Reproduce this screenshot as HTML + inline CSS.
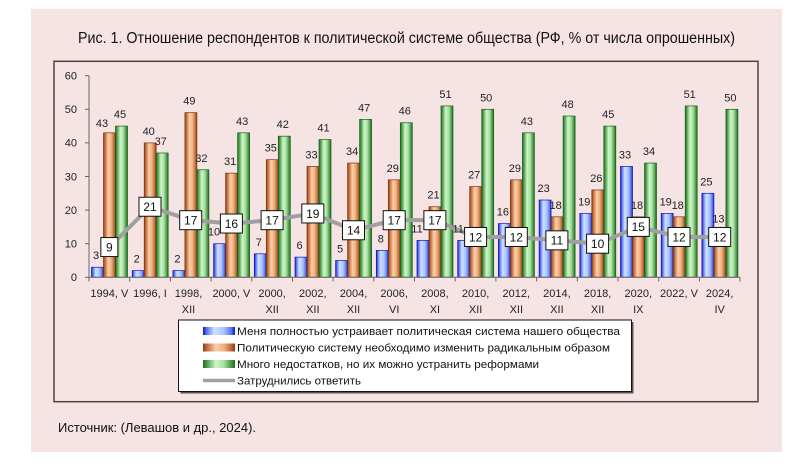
<!DOCTYPE html>
<html><head><meta charset="utf-8"><style>
html,body{margin:0;padding:0;background:#fff;}
body{width:800px;height:464px;overflow:hidden;}
svg text{font-family:"Liberation Sans","DejaVu Sans",sans-serif;}
</style></head><body>
<svg width="800" height="464" viewBox="0 0 800 464" xmlns="http://www.w3.org/2000/svg">
<defs>
<linearGradient id="gb" x1="0" y1="0" x2="1" y2="0">
<stop offset="0" stop-color="#1010c8"/><stop offset="0.12" stop-color="#5a78f0"/><stop offset="0.35" stop-color="#cfe0ff"/><stop offset="0.65" stop-color="#a8c4ff"/><stop offset="0.88" stop-color="#5a78f0"/><stop offset="1" stop-color="#1010c8"/>
</linearGradient>
<linearGradient id="go" x1="0" y1="0" x2="1" y2="0">
<stop offset="0" stop-color="#8a3a10"/><stop offset="0.12" stop-color="#c06a38"/><stop offset="0.4" stop-color="#fbcfa8"/><stop offset="0.65" stop-color="#f0b080"/><stop offset="0.88" stop-color="#c06a38"/><stop offset="1" stop-color="#8a3a10"/>
</linearGradient>
<linearGradient id="gg" x1="0" y1="0" x2="1" y2="0">
<stop offset="0" stop-color="#1e6a1e"/><stop offset="0.12" stop-color="#4a9a4a"/><stop offset="0.4" stop-color="#d0f5c8"/><stop offset="0.65" stop-color="#a8e0a0"/><stop offset="0.88" stop-color="#4a9a4a"/><stop offset="1" stop-color="#1e6a1e"/>
</linearGradient>
</defs>
<rect x="31" y="9" width="751" height="443" fill="#f6e4e4"/>
<text x="78" y="43" font-size="15.5" fill="#111" textLength="657" lengthAdjust="spacingAndGlyphs">Рис. 1. Отношение респондентов к политической системе общества (РФ, % от числа опрошенных)</text>
<rect x="54" y="61.3" width="704" height="340.4" fill="#f6e4e4" stroke="#4d4242" stroke-width="1.5"/>

<!-- y axis -->
<g stroke="#666" stroke-width="1">
<line x1="89" y1="75.7" x2="89" y2="277.3"/>
<line x1="85" y1="75.7" x2="89" y2="75.7"/><line x1="85" y1="109.3" x2="89" y2="109.3"/><line x1="85" y1="142.9" x2="89" y2="142.9"/><line x1="85" y1="176.5" x2="89" y2="176.5"/><line x1="85" y1="210.1" x2="89" y2="210.1"/><line x1="85" y1="243.7" x2="89" y2="243.7"/><line x1="85" y1="277.3" x2="89" y2="277.3"/>
</g>
<g font-size="11" fill="#222" text-anchor="end">
<text x="77" y="79.5">60</text><text x="77" y="113.1">50</text><text x="77" y="146.7">40</text><text x="77" y="180.3">30</text><text x="77" y="213.9">20</text><text x="77" y="247.5">10</text><text x="77" y="281.1">0</text>
</g>

<!-- blue bars -->
<g fill="url(#gb)" stroke="#1818b0" stroke-width="0.7">
<rect x="91.5" y="267.22" width="12" height="10.08"/>
<rect x="132.2" y="270.58" width="12" height="6.72"/>
<rect x="172.9" y="270.58" width="12" height="6.72"/>
<rect x="213.6" y="243.7" width="12" height="33.6"/>
<rect x="254.3" y="253.78" width="12" height="23.52"/>
<rect x="295.0" y="257.14" width="12" height="20.16"/>
<rect x="335.6" y="260.5" width="12" height="16.8"/>
<rect x="376.3" y="250.42" width="12" height="26.88"/>
<rect x="417.0" y="240.34" width="12" height="36.96"/>
<rect x="457.7" y="240.34" width="12" height="36.96"/>
<rect x="498.4" y="223.54" width="12" height="53.76"/>
<rect x="539.1" y="200.02" width="12" height="77.28"/>
<rect x="579.8" y="213.46" width="12" height="63.84"/>
<rect x="620.5" y="166.42" width="12" height="110.88"/>
<rect x="661.2" y="213.46" width="12" height="63.84"/>
<rect x="701.9" y="193.3" width="12" height="84"/>
</g>
<!-- orange bars -->
<g fill="url(#go)" stroke="#7a3410" stroke-width="0.7">
<rect x="103.5" y="132.82" width="12" height="144.48"/>
<rect x="144.2" y="142.9" width="12" height="134.4"/>
<rect x="184.9" y="112.66" width="12" height="164.64"/>
<rect x="225.6" y="173.14" width="12" height="104.16"/>
<rect x="266.3" y="159.7" width="12" height="117.6"/>
<rect x="307.0" y="166.42" width="12" height="110.88"/>
<rect x="347.6" y="163.06" width="12" height="114.24"/>
<rect x="388.3" y="179.86" width="12" height="97.44"/>
<rect x="429.0" y="206.74" width="12" height="70.56"/>
<rect x="469.7" y="186.58" width="12" height="90.72"/>
<rect x="510.4" y="179.86" width="12" height="97.44"/>
<rect x="551.1" y="216.82" width="12" height="60.48"/>
<rect x="591.8" y="189.94" width="12" height="87.36"/>
<rect x="632.5" y="216.82" width="12" height="60.48"/>
<rect x="673.2" y="216.82" width="12" height="60.48"/>
<rect x="713.9" y="233.62" width="12" height="43.68"/>
</g>
<!-- green bars -->
<g fill="url(#gg)" stroke="#1a5e1a" stroke-width="0.7">
<rect x="115.5" y="126.1" width="12" height="151.2"/>
<rect x="156.2" y="152.98" width="12" height="124.32"/>
<rect x="196.9" y="169.78" width="12" height="107.52"/>
<rect x="237.6" y="132.82" width="12" height="144.48"/>
<rect x="278.3" y="136.18" width="12" height="141.12"/>
<rect x="319.0" y="139.54" width="12" height="137.76"/>
<rect x="359.6" y="119.38" width="12" height="157.92"/>
<rect x="400.3" y="122.74" width="12" height="154.56"/>
<rect x="441.0" y="105.94" width="12" height="171.36"/>
<rect x="481.7" y="109.3" width="12" height="168"/>
<rect x="522.4" y="132.82" width="12" height="144.48"/>
<rect x="563.1" y="116.02" width="12" height="161.28"/>
<rect x="603.8" y="126.1" width="12" height="151.2"/>
<rect x="644.5" y="163.06" width="12" height="114.24"/>
<rect x="685.2" y="105.94" width="12" height="171.36"/>
<rect x="725.9" y="109.3" width="12" height="168"/>
</g>

<!-- x axis -->
<g stroke="#666" stroke-width="1">
<line x1="89" y1="277.3" x2="740" y2="277.3"/>
<line x1="89" y1="277.3" x2="89" y2="281.5"/><line x1="129.7" y1="277.3" x2="129.7" y2="281.5"/><line x1="170.4" y1="277.3" x2="170.4" y2="281.5"/><line x1="211.1" y1="277.3" x2="211.1" y2="281.5"/><line x1="251.8" y1="277.3" x2="251.8" y2="281.5"/><line x1="292.5" y1="277.3" x2="292.5" y2="281.5"/><line x1="333.1" y1="277.3" x2="333.1" y2="281.5"/><line x1="373.8" y1="277.3" x2="373.8" y2="281.5"/><line x1="414.5" y1="277.3" x2="414.5" y2="281.5"/><line x1="455.2" y1="277.3" x2="455.2" y2="281.5"/><line x1="495.9" y1="277.3" x2="495.9" y2="281.5"/><line x1="536.6" y1="277.3" x2="536.6" y2="281.5"/><line x1="577.3" y1="277.3" x2="577.3" y2="281.5"/><line x1="618" y1="277.3" x2="618" y2="281.5"/><line x1="658.7" y1="277.3" x2="658.7" y2="281.5"/><line x1="699.4" y1="277.3" x2="699.4" y2="281.5"/><line x1="740" y1="277.3" x2="740" y2="281.5"/>
</g>

<!-- gray line -->
<polyline fill="none" stroke="#a0a0a0" stroke-width="4" stroke-linejoin="round" points="109.35,247.06 150,206.74 190.7,220.18 231.4,223.54 272.1,220.18 312.8,213.46 353.5,230.26 394.2,220.18 434.9,220.18 475.6,236.98 516.3,236.98 556.9,240.34 597.6,243.7 638.3,226.9 679,236.98 719.7,236.98"/>
<g fill="#fff" stroke="#111" stroke-width="1">
<rect x="100.85" y="237.56" width="17" height="19"/>
<rect x="139" y="197.24" width="22" height="19"/>
<rect x="179.7" y="210.68" width="22" height="19"/>
<rect x="220.4" y="214.04" width="22" height="19"/>
<rect x="261.1" y="210.68" width="22" height="19"/>
<rect x="301.8" y="203.96" width="22" height="19"/>
<rect x="342.5" y="220.76" width="22" height="19"/>
<rect x="383.2" y="210.68" width="22" height="19"/>
<rect x="423.9" y="210.68" width="22" height="19"/>
<rect x="464.6" y="227.48" width="22" height="19"/>
<rect x="505.3" y="227.48" width="22" height="19"/>
<rect x="545.9" y="230.84" width="22" height="19"/>
<rect x="586.6" y="234.2" width="22" height="19"/>
<rect x="627.3" y="217.4" width="22" height="19"/>
<rect x="668" y="227.48" width="22" height="19"/>
<rect x="708.7" y="227.48" width="22" height="19"/>
</g>
<g font-size="12" fill="#111" text-anchor="middle">
<text x="109.35" y="251.4">9</text>
<text x="150" y="211.1">21</text>
<text x="190.7" y="224.5">17</text>
<text x="231.4" y="227.9">16</text>
<text x="272.1" y="224.5">17</text>
<text x="312.8" y="217.8">19</text>
<text x="353.5" y="234.6">14</text>
<text x="394.2" y="224.5">17</text>
<text x="434.9" y="224.5">17</text>
<text x="475.6" y="241.3">12</text>
<text x="516.3" y="241.3">12</text>
<text x="556.9" y="244.7">11</text>
<text x="597.6" y="248">10</text>
<text x="638.3" y="231.2">15</text>
<text x="679" y="241.3">12</text>
<text x="719.7" y="241.3">12</text>
</g>

<!-- bar data labels -->
<g font-size="11" fill="#222" text-anchor="middle">
<text x="96" y="259.2">3</text><text x="136.7" y="262.6">2</text><text x="177.4" y="262.6">2</text><text x="214" y="235.7">10</text><text x="258.8" y="245.8">7</text><text x="299.5" y="249.1">6</text><text x="340.1" y="252.5">5</text><text x="380.8" y="242.4">8</text><text x="417" y="232.3">11</text><text x="458.2" y="232.3">11</text><text x="502.9" y="215.5">16</text><text x="543.6" y="192">23</text><text x="584.3" y="205.5">19</text><text x="625" y="158.4">33</text><text x="665.7" y="205.5">19</text><text x="706.4" y="185.3">25</text>
<text x="102" y="127">43</text><text x="148.7" y="134.9">40</text><text x="189.4" y="104.7">49</text><text x="230.1" y="165.1">31</text><text x="270.8" y="151.7">35</text><text x="311.5" y="158.4">33</text><text x="352.1" y="155.1">34</text><text x="392.8" y="171.9">29</text><text x="433.5" y="198.7">21</text><text x="474.2" y="178.6">27</text><text x="514.9" y="171.9">29</text><text x="555.6" y="208.8">18</text><text x="596.3" y="181.9">26</text><text x="637" y="208.8">18</text><text x="677.7" y="208.8">18</text><text x="718.4" y="222.5">13</text>
<text x="120" y="118.1">45</text><text x="160.7" y="145">37</text><text x="201.4" y="161.8">32</text><text x="242.1" y="124.8">43</text><text x="282.8" y="128.2">42</text><text x="323.5" y="131.5">41</text><text x="364.1" y="111.4">47</text><text x="404.8" y="114.7">46</text><text x="445.5" y="97.9">51</text><text x="486.2" y="101.3">50</text><text x="526.9" y="124.8">43</text><text x="567.6" y="108">48</text><text x="608.3" y="118.1">45</text><text x="649" y="155.1">34</text><text x="689.7" y="97.9">51</text><text x="730.4" y="101.3">50</text>
</g>

<!-- x labels -->
<g font-size="11" fill="#222" text-anchor="middle">
<text x="109.35" y="297">1994, V</text>
<text x="150" y="297">1996, I</text>
<text x="188.5" y="297">1998,</text><text x="188.5" y="313">XII</text>
<text x="231.4" y="297">2000, V</text>
<text x="272.1" y="297">2000,</text><text x="272.1" y="313">XII</text>
<text x="312.8" y="297">2002,</text><text x="312.8" y="313">XII</text>
<text x="353.5" y="297">2004,</text><text x="353.5" y="313">XII</text>
<text x="394.2" y="297">2006,</text><text x="394.2" y="313">VI</text>
<text x="434.9" y="297">2008,</text><text x="434.9" y="313">XI</text>
<text x="475.6" y="297">2010,</text><text x="475.6" y="313">XII</text>
<text x="516.3" y="297">2012,</text><text x="516.3" y="313">XII</text>
<text x="556.9" y="297">2014,</text><text x="556.9" y="313">XII</text>
<text x="597.6" y="297">2018,</text><text x="597.6" y="313">XII</text>
<text x="638.3" y="297">2020,</text><text x="638.3" y="313">IX</text>
<text x="679" y="297">2022, V</text>
<text x="719.7" y="297">2024,</text><text x="719.7" y="313">IV</text>
</g>

<!-- legend -->
<rect x="180.5" y="322" width="453" height="71.5" fill="#555"/>
<rect x="178.5" y="320" width="453" height="71.5" fill="#fff" stroke="#111" stroke-width="1"/>
<rect x="203" y="327" width="32" height="8" fill="url(#gb)"/>
<rect x="203" y="343.5" width="32" height="8" fill="url(#go)"/>
<rect x="203" y="360" width="32" height="8" fill="url(#gg)"/>
<line x1="203" y1="380.5" x2="235" y2="380.5" stroke="#a0a0a0" stroke-width="3.5"/>
<g font-size="11" fill="#111">
<text x="237" y="335" textLength="383" lengthAdjust="spacingAndGlyphs">Меня полностью устраивает политическая система нашего общества</text>
<text x="237" y="351.5" textLength="373" lengthAdjust="spacingAndGlyphs">Политическую систему необходимо изменить радикальным образом</text>
<text x="237" y="368" textLength="302" lengthAdjust="spacingAndGlyphs">Много недостатков, но их можно устранить реформами</text>
<text x="237" y="384.5" textLength="124" lengthAdjust="spacingAndGlyphs">Затруднились ответить</text>
</g>

<text x="58" y="432" font-size="13" fill="#111" textLength="198" lengthAdjust="spacingAndGlyphs">Источник: (Левашов и др., 2024).</text>
</svg>
</body></html>
